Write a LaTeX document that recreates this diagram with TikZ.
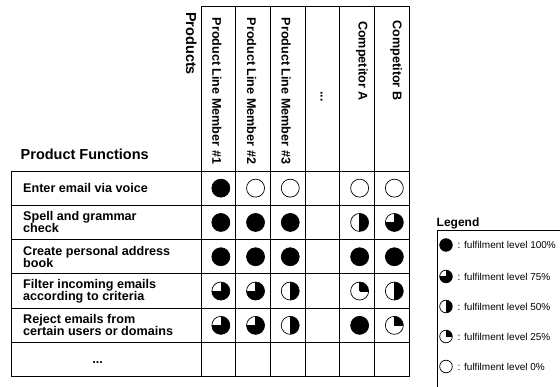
\documentclass[tikz,border=0pt]{standalone}
\usepackage{fontspec}
\setmainfont{Liberation Sans}
% #1 centre, #2 level (0..4), #3 radius (unitless, picture units; y runs downward)
\newcommand{\hball}[3]{%
  \ifcase#2\relax
    \draw[ballline] #1 circle[radius=#3];
  \or
    \begin{scope}\clip #1 circle[radius=#3];
      \fill[black] #1 rectangle ++(#3,-#3);\end{scope}
    \draw[thinline] #1 -- ++(0,-#3) #1 -- ++(#3,0);
    \draw[ballline] #1 circle[radius=#3];
  \or
    \begin{scope}\clip #1 circle[radius=#3];
      \fill[black] #1 ++(0,-#3) rectangle ++(#3,{2*#3});\end{scope}
    \draw[thinline] #1 ++(0,-#3) -- ++(0,{2*#3});
    \draw[ballline] #1 circle[radius=#3];
  \or
    \fill[black] #1 circle[radius=#3];
    \fill[white] #1 rectangle ++(-#3,-#3);
    \draw[thinline] #1 -- ++(0,-#3) #1 -- ++(-#3,0);
    \draw[ballline] #1 circle[radius=#3];
  \or
    \filldraw[ballline,fill=black] #1 circle[radius=#3];
  \fi}
\begin{document}
\begin{tikzpicture}[x=1pt,y=-1pt,
  grid/.style={draw=black,line width=0.9pt},
  ballline/.style={draw=black,line width=0.7pt},
  thinline/.style={draw=black,line width=0.4pt},
  ftext/.style={font=\fontsize{12.6}{12}\selectfont\bfseries, align=left, anchor=west, inner sep=0pt},
  htext/.style={font=\fontsize{12.6}{12}\selectfont\bfseries, rotate=-90, anchor=base west, inner sep=0pt},
  ltext/.style={font=\fontsize{10}{12}\selectfont, anchor=base west, inner sep=0pt}]
\useasboundingbox (0,0) rectangle (560,387);

% header frame and column lines
\draw[grid] (201,171) -- (201,6) -- (409.2,6) -- (409.2,376.8);
\foreach \i in {1,...,5} \draw[grid] ({201+34.7*\i},6) -- ({201+34.7*\i},376.8);
% body frame and row lines
\draw[grid] (11,171) rectangle (409.2,376.8);
\foreach \j in {1,...,5} \draw[grid] (11,{171+34.3*\j}) -- (409.2,{171+34.3*\j});
\draw[grid] (201,171) -- (201,376.8);

% titles
\node[font=\fontsize{14.5}{16}\selectfont\bfseries, anchor=base west, inner sep=0pt] (pf) at (20.5,159.3) {Product Functions};
\node[font=\fontsize{14.5}{16}\selectfont\bfseries, rotate=-90, anchor=base west, inner sep=0pt] (prod) at (186.2,12) {Products};

% column headers
\node[htext] (h1) at (212.3,17.5) {Product Line Member \#1};
\node[htext] (h2) at (247.0,17.5) {Product Line Member \#2};
\node[htext] (h3) at (281.7,17.5) {Product Line Member \#3};
\node[htext] (h4) at (320.5,91) {...};
\node[htext] (h5) at (358.5,21) {Competitor A};
\node[htext] (h6) at (392.8,20.5) {Competitor B};

% row labels
\node[ftext] (f1) at (23,188.15) {Enter email via voice};
\node[ftext] (f2) at (23,222.45) {Spell and grammar\\check};
\node[ftext] (f3) at (23,256.75) {Create personal address\\book};
\node[ftext] (f4) at (23,291.05) {Filter incoming emails\\according to criteria};
\node[ftext] (f5) at (23,325.35) {Reject emails from\\certain users or domains};
\node[font=\fontsize{12.6}{12}\selectfont\bfseries, anchor=base, inner sep=0pt] (f6) at (97.5,364) {...};

% harvey balls: col/row/level (0=0%,1=25%,2=50%,3=75%,4=100%)
\foreach \c/\r/\l in {0/0/4,1/0/0,2/0/0,4/0/0,5/0/0,
                      0/1/4,1/1/4,2/1/4,4/1/2,5/1/3,
                      0/2/4,1/2/4,2/2/4,4/2/4,5/2/4,
                      0/3/3,1/3/3,2/3/2,4/3/1,5/3/2,
                      0/4/3,1/4/3,2/4/2,4/4/4,5/4/1}
  \hball{({220.85+34.7*\c},{188.15+34.3*\r})}{\l}{9};

% legend
\node[font=\fontsize{12}{14}\selectfont\bfseries, anchor=base west, inner sep=0pt] (lg) at (436.5,226.7) {Legend};
\draw[line width=0.9pt] (560,230) -- (437,230) -- (437,387);
\hball{(446,245)}{4}{6.3}
\hball{(446,276.5)}{3}{6.3}
\hball{(446,306.5)}{2}{6.3}
\hball{(446,336.5)}{1}{6.3}
\hball{(446,366.5)}{0}{6.3}
\node[ltext] (l1) at (457.5,248.6) {: fulfilment level 100\%};
\node[ltext] (l2) at (457.5,280.1) {: fulfilment level 75\%};
\node[ltext] (l3) at (457.5,310.1) {: fulfilment level 50\%};
\node[ltext] (l4) at (457.5,340.1) {: fulfilment level 25\%};
\node[ltext] (l5) at (457.5,370.1) {: fulfilment level 0\%};
\end{tikzpicture}
\end{document}
